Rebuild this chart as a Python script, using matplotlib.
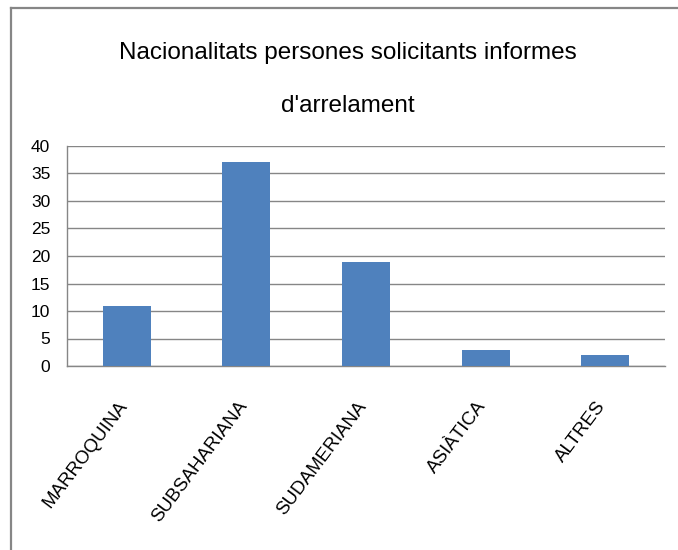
import matplotlib
matplotlib.use("Agg")
import matplotlib.pyplot as plt
import matplotlib.transforms as mtransforms
from matplotlib.lines import Line2D

# データ
categories = ["MARROQUINA", "SUBSAHARIANA", "SUDAMERIANA", "ASIÀTICA", "ALTRES"]
values = [11, 37, 19, 3, 2]
y_ticks = [0, 5, 10, 15, 20, 25, 30, 35, 40]
title_lines = ["Nacionalitats persones solicitants informes", "d'arrelament"]

bar_color = "#4F81BD"
grid_color = "#868686"

plt.rcParams['font.family'] = ['Liberation Sans', 'DejaVu Sans']

W, H = 678, 550
fig = plt.figure(figsize=(W / 100, H / 100), dpi=100)
fig.patch.set_facecolor("white")

# プロット領域 (ピクセル位置から)
left, right, top, bottom = 67, 665, 146, 366
ax = fig.add_axes([left / W, (H - bottom) / H, (right - left) / W, (bottom - top) / H])

x = range(len(categories))
ax.bar(x, values, width=0.4, color=bar_color, zorder=3)

ax.set_xlim(-0.5, len(categories) - 0.5)
ax.set_ylim(0, 40)
ax.set_yticks(y_ticks)
ax.set_yticklabels([str(v) for v in y_ticks], fontsize=12.5, color="#000000")
ax.yaxis.grid(True, color=grid_color, linewidth=1.0, zorder=0)
ax.set_axisbelow(True)

for s in ["top", "right"]:
    ax.spines[s].set_visible(False)
for s in ["left", "bottom"]:
    ax.spines[s].set_color(grid_color)
    ax.spines[s].set_linewidth(1.0)

ax.tick_params(axis="y", length=0, pad=12)
ax.tick_params(axis="x", length=0, pad=23)
ax.set_xticks(list(x))
ax.set_xticklabels(categories, rotation=53, ha="right", fontsize=13.5)
offset = mtransforms.ScaledTranslation(4 / 100, 0, fig.dpi_scale_trans)
for lbl in ax.get_xticklabels():
    lbl.set_transform(lbl.get_transform() + offset)

# タイトル (2行)
fig.text(347.5 / W, 1 - 59 / H, title_lines[0], ha="center", va="baseline", fontsize=17.5)
fig.text(347.5 / W, 1 - 112 / H, title_lines[1], ha="center", va="baseline", fontsize=17.5)

# グラフ枠 (左と上のみ)
fig.add_artist(Line2D([10.5 / W, 1.0], [1 - 8 / H, 1 - 8 / H], color=grid_color, linewidth=1.6, transform=fig.transFigure))
fig.add_artist(Line2D([10.5 / W, 10.5 / W], [1 - 8 / H, 0.0], color=grid_color, linewidth=1.6, transform=fig.transFigure))

fig.savefig("out.png", dpi=100)
